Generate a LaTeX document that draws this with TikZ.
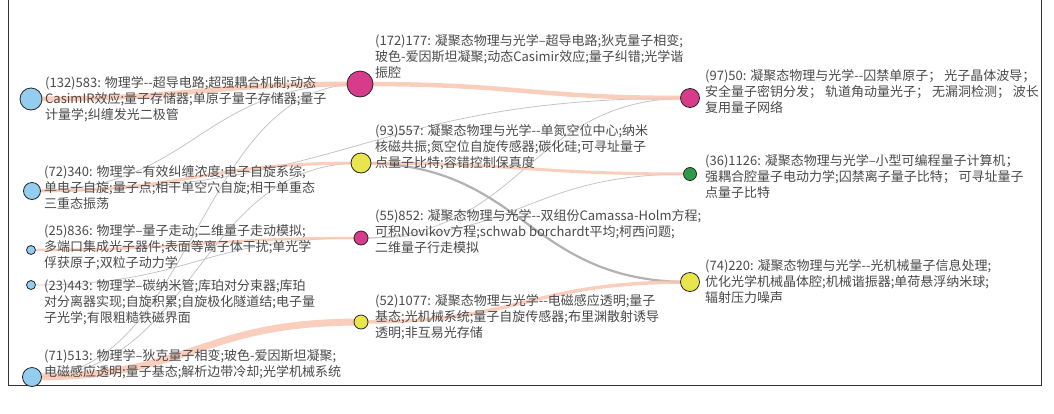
\documentclass[tikz,border=0pt]{standalone}
\usepackage{fontspec}
\newfontfamily\cjk{Noto Sans CJK SC}
\usetikzlibrary{calc,backgrounds}
\definecolor{txt}{HTML}{4A4A4A}
\definecolor{flow}{HTML}{F9C6B2}
\definecolor{weak}{HTML}{C4C4C4}
\definecolor{weakd}{HTML}{B2B2B2}
\definecolor{nblue}{HTML}{93CDF0}
\definecolor{nmag}{HTML}{D63C8A}
\definecolor{nyel}{HTML}{E9E54C}
\definecolor{ngrn}{HTML}{2E9A47}
\definecolor{framec}{HTML}{333333}
\tikzset{
  lbl/.style={anchor=north west, inner sep=0pt, align=left, text=txt, font=\cjk\fontsize{13}{16.3}\selectfont},
  dot/.style={circle, draw=black!85, line width=0.8pt, inner sep=0pt, minimum size=#1},
  flowline/.style={draw=flow, line width=#1, opacity=0.85},
  weakline/.style={draw=weak, line width=#1},
  framel/.style={draw=framec, line width=1pt},
}
\newcommand{\sconn}[3]{\path[#1] let \p1=(#2.center), \p2=(#3.center), \p3=($(\p1)!0.5!(\p2)$) in (\p1) .. controls (\x3,\y1) and (\x3,\y2) .. (\p2);}
\begin{document}
\begin{tikzpicture}[x=1pt,y=-1pt]
\useasboundingbox (0,0) rectangle (1054,413);
% frame
\coordinate (f1) at (8,0);
\coordinate (f2) at (8,385);
\coordinate (f3) at (1041,385);
\coordinate (f4) at (1041,0);
\draw[framel] (f1) -- (f2) -- (f3) -- (f4);
% nodes
\node[dot=22pt, fill=nblue] (L1) at (31,99) {};
\node[dot=17pt, fill=nblue] (L2) at (32,191) {};
\node[dot=9pt, fill=nblue] (L3) at (31,250) {};
\node[dot=9pt, fill=nblue] (L4) at (31,285) {};
\node[dot=19pt, fill=nblue] (L5) at (32,377) {};
\node[dot=26pt, fill=nmag] (M1) at (360,84) {};
\node[dot=20pt, fill=nyel] (M2) at (361,163) {};
\node[dot=14pt, fill=nmag] (M3) at (361,238) {};
\node[dot=14pt, fill=nyel] (M4) at (361,322) {};
\node[dot=19pt, fill=nmag] (R1) at (690,98) {};
\node[dot=13pt, fill=ngrn] (R2) at (690,174) {};
\node[dot=19pt, fill=nyel] (R3) at (690,282) {};
% connectors
\begin{scope}[on background layer]
\sconn{weakline=0.8pt}{L2}{M1}
\sconn{weakline=0.8pt}{L5}{M1}
\sconn{weakline=0.8pt}{L5}{M2}
\sconn{weakline=0.8pt}{L4}{M3}
\sconn{weakline=0.8pt}{L2}{R1}
\sconn{weakline=0.8pt}{M3}{R1}
\sconn{weakline=0.8pt}{M3}{R2}
\sconn{draw=weakd, line width=2.2pt}{M2}{R3}
\sconn{flowline=5pt}{L1}{M1}
\sconn{flowline=4.5pt}{M1}{R1}
\sconn{flowline=3pt}{L2}{M2}
\sconn{flowline=3pt}{M2}{R2}
\sconn{flowline=2.5pt}{L3}{M3}
\sconn{flowline=7pt}{L5}{M4}
\sconn{flowline=3.5pt}{M4}{R3}
\end{scope}
% labels
\node[lbl] (tL1) at (45,75.8) {(132)583: 物理学--超导电路;超强耦合机制;动态\\CasimIR效应;量子存储器;单原子量子存储器;量子\\计量学;纠缠发光二极管};
\node[lbl] (tL2) at (44,164.8) {(72)340: 物理学–有效纠缠浓度;电子自旋系综;\\单电子自旋;量子点;相干单空穴自旋;相干单重态\\三重态振荡};
\node[lbl] (tL3) at (44,223.8) {(25)836: 物理学–量子走动;二维量子走动模拟;\\多端口集成光子器件;表面等离子体干扰;单光学\\俘获原子;双粒子动力学};
\node[lbl] (tL4) at (44,278.8) {(23)443: 物理学–碳纳米管;库珀对分束器;库珀\\对分离器实现;自旋积累;自旋极化隧道结;电子量\\子光学;有限粗糙铁磁界面};
\node[lbl] (tL5) at (44,348.8) {(71)513: 物理学–狄克量子相变;玻色-爱因斯坦凝聚;\\电磁感应透明;量子基态;解析边带冷却;光学机械系统};
\node[lbl] (tM1) at (375,33.8) {(172)177: 凝聚态物理与光学–超导电路;狄克量子相变;\\玻色-爱因斯坦凝聚;动态Casimir效应;量子纠错;光学谐\\振腔};
\node[lbl] (tM2) at (375,123.8) {(93)557: 凝聚态物理与光学--单氮空位中心;纳米\\核磁共振;氮空位自旋传感器;碳化硅;可寻址量子\\点量子比特;容错控制保真度};
\node[lbl] (tM3) at (375,208.8) {(55)852: 凝聚态物理与光学--双组份Camassa-Holm方程;\\可积Novikov方程;schwab borchardt平均;柯西问题;\\二维量子行走模拟};
\node[lbl] (tM4) at (375,293.8) {(52)1077: 凝聚态物理与光学--电磁感应透明;量子\\基态;光机械系统;量子自旋传感器;布里渊散射诱导\\透明;非互易光存储};
\node[lbl] (tR1) at (705,68.8) {(97)50: 凝聚态物理与光学--囚禁单原子； 光子晶体波导；\\安全量子密钥分发； 轨道角动量光子； 无漏洞检测； 波长\\复用量子网络};
\node[lbl] (tR2) at (705,153.8) {(36)1126: 凝聚态物理与光学–小型可编程量子计算机；\\强耦合腔量子电动力学;囚禁离子量子比特； 可寻址量子\\点量子比特};
\node[lbl] (tR3) at (705,258.8) {(74)220: 凝聚态物理与光学--光机械量子信息处理;\\优化光学机械晶体腔;机械谐振器;单荷悬浮纳米球;\\辐射压力噪声};
\end{tikzpicture}
\end{document}
